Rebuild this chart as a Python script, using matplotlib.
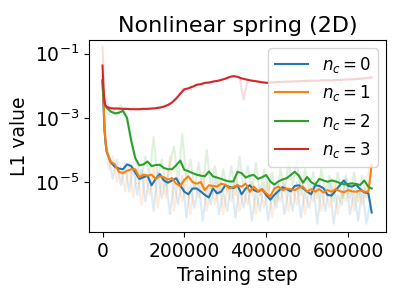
import numpy as np
import matplotlib
matplotlib.use("Agg")
import matplotlib.pyplot as plt

# training steps (smoothed curves), dense at the very start
steps = np.array([0, 2500, 5000, 7500] + list(range(10000, 650001, 10000)) + [658000])
# raw (noisy) curves
raw_steps = np.array([0] + list(range(5000, 655001, 10000)))

# log10 of the smoothed L1 value
nc0_log = [-1.85, -2.6, -3.4, -3.8,
           -4.05, -4.38, -4.52, -4.58, -4.60, -4.45, -4.50, -4.70, -4.90, -4.85,
           -4.80, -5.10, -4.90, -4.75, -4.95, -5.02, -4.95, -4.88, -5.10, -5.30,
           -5.38, -5.20, -5.20, -5.29, -5.40, -5.48, -5.20, -5.35, -5.30, -5.10,
           -5.15, -5.19, -5.10, -5.38, -5.20, -5.10, -5.25, -5.30, -5.22, -5.40,
           -5.55, -5.40, -5.28, -5.16, -5.22, -5.29, -5.12, -5.10, -5.19, -5.30,
           -5.38, -5.10, -5.12, -5.19, -5.40, -5.42, -5.26, -5.10, -4.95, -5.12,
           -5.14, -5.08, -5.22, -5.32, -5.35, -5.95]
nc1_log = [-1.85, -2.45, -3.3, -3.75,
           -4.02, -4.36, -4.45, -4.68, -4.72, -4.65, -4.60, -4.60, -4.85, -4.77,
           -4.80, -4.77, -4.90, -4.82, -4.85, -4.92, -4.88, -5.05, -5.12, -4.93,
           -4.82, -5.00, -5.05, -5.00, -5.25, -5.10, -5.12, -5.14, -5.05, -5.08,
           -5.20, -5.15, -5.10, -5.14, -5.05, -5.30, -5.14, -5.28, -5.22, -5.35,
           -5.45, -5.20, -5.14, -5.25, -5.20, -5.22, -5.25, -5.18, -5.14, -5.30,
           -5.22, -5.30, -5.22, -5.33, -5.25, -5.30, -5.22, -5.28, -5.32, -5.25,
           -5.29, -5.30, -5.26, -5.30, -5.30, -4.45]
nc2_log = [-1.82, -2.3, -2.55, -2.62,
           -2.68, -2.80, -2.86, -2.84, -2.78, -3.00, -3.70, -4.25, -4.48, -4.45,
           -4.36, -4.50, -4.47, -4.46, -4.56, -4.60, -4.60, -4.48, -4.33, -4.62,
           -4.66, -4.72, -4.77, -4.80, -4.82, -4.67, -4.82, -4.86, -4.90, -4.95,
           -4.98, -4.98, -4.68, -4.72, -4.86, -4.80, -4.78, -4.90, -4.85, -4.78,
           -4.98, -5.08, -4.98, -4.92, -4.88, -4.78, -4.68, -4.80, -5.02, -4.84,
           -5.00, -5.08, -4.90, -4.95, -4.99, -4.95, -4.98, -5.03, -5.07, -5.06,
           -5.04, -5.06, -5.09, -4.95, -5.15, -5.20]
nc3_log = [-1.37, -2.1, -2.5, -2.62,
           -2.66, -2.70, -2.71, -2.71, -2.72, -2.72, -2.73, -2.73, -2.73, -2.72,
           -2.72, -2.71, -2.70, -2.68, -2.65, -2.60, -2.52, -2.40, -2.25, -2.11,
           -2.08, -2.03, -1.97, -1.95, -1.91, -1.90, -1.87, -1.85, -1.82, -1.78,
           -1.73, -1.70, -1.72, -1.77, -1.80, -1.83, -1.85, -1.87, -1.89, -1.91,
           -1.90, -1.89, -1.88, -1.88, -1.87, -1.87, -1.86, -1.86, -1.85, -1.85,
           -1.84, -1.84, -1.84, -1.83, -1.83, -1.83, -1.82, -1.82, -1.81, -1.80,
           -1.80, -1.79, -1.78, -1.77, -1.75, -1.74]

# log10 of the raw L1 value
nc0_raw_log = [-1.7, -3.5, -4.2, -4.9, -4.3, -5.1, -4.4, -5.3, -4.5, -5.4,
               -4.6, -5.6, -4.8, -5.9, -4.7, -5.5, -4.9, -6.0, -5.0, -5.7,
               -4.8, -6.1, -5.1, -5.8, -5.0, -6.2, -5.2, -5.7, -4.9, -6.0,
               -5.3, -5.9, -5.0, -6.1, -5.2, -5.8, -5.1, -6.2, -5.3, -5.9,
               -5.0, -6.2, -5.4, -5.8, -5.1, -6.0, -5.2, -5.9, -5.0, -6.1,
               -5.3, -5.8, -5.1, -6.3, -5.2, -5.9, -5.0, -6.3, -5.4, -5.7,
               -4.9, -6.0, -5.3, -6.2, -5.2, -6.3, -5.6]
nc1_raw_log = [-1.8, -3.2, -4.6, -4.2, -5.0, -4.5, -5.3, -4.4, -5.5, -4.6,
               -5.7, -4.7, -5.4, -4.5, -5.8, -4.9, -5.5, -4.2, -5.9, -4.9,
               -5.6, -4.8, -6.0, -5.0, -5.5, -4.7, -5.9, -5.1, -5.7, -4.9,
               -6.0, -5.2, -5.6, -4.8, -5.9, -5.3, -5.7, -5.0, -6.0, -5.2,
               -5.8, -4.9, -6.1, -5.3, -5.6, -5.0, -5.9, -5.2, -5.7, -4.8,
               -6.0, -5.3, -5.6, -5.1, -5.9, -5.2, -5.8, -4.9, -6.0, -5.3,
               -5.6, -5.0, -5.9, -5.2, -5.7, -5.1, -4.3]
nc2_raw_log = [-1.8, -2.5, -2.9, -2.7, -2.95, -2.6, -2.9, -3.4, -4.0, -4.5,
               -4.9, -4.2, -4.8, -3.6, -4.9, -4.3, -5.1, -4.4, -3.9, -5.0,
               -3.5, -4.9, -4.3, -5.2, -4.4, -5.3, -4.0, -5.2, -4.5, -5.4,
               -4.6, -5.3, -4.5, -5.4, -4.2, -5.2, -4.5, -5.3, -4.4, -5.4,
               -4.6, -5.3, -4.7, -5.6, -4.6, -5.3, -4.4, -5.1, -4.3, -5.4,
               -4.6, -5.2, -4.7, -5.5, -4.6, -5.3, -4.8, -5.6, -4.7, -5.5,
               -4.8, -5.5, -4.7, -5.6, -4.8, -5.5, -5.0]
nc3_raw_log = [-0.78, -2.3, -2.66, -2.72, -2.69, -2.74, -2.70, -2.74, -2.71, -2.75,
               -2.71, -2.74, -2.70, -2.72, -2.67, -2.68, -2.60, -2.58, -2.44, -2.34,
               -2.10, -2.12, -2.02, -2.03, -1.94, -1.97, -1.88, -1.91, -1.84, -1.86,
               -1.78, -1.79, -1.70, -1.72, -1.73, -2.44, -1.80, -1.85, -1.84, -1.89,
               -1.87, -1.92, -1.87, -1.90, -1.86, -1.89, -1.85, -1.88, -1.84, -1.87,
               -1.84, -1.86, -1.83, -1.86, -1.82, -1.85, -1.82, -1.84, -2.05, -1.83,
               -1.80, -1.82, -1.79, -1.81, -1.77, -1.78, -1.72]

labels = [r'$n_c = 0$', r'$n_c = 1$', r'$n_c = 2$', r'$n_c = 3$']
colors = ['C0', 'C1', 'C2', 'C3']
smooth = [nc0_log, nc1_log, nc2_log, nc3_log]
raw = [nc0_raw_log, nc1_raw_log, nc2_raw_log, nc3_raw_log]

fig, ax = plt.subplots(figsize=(4, 3), dpi=100)
fig.subplots_adjust(left=0.2225, right=0.965, bottom=0.2267, top=0.8667)

for r, c in zip(raw, colors):
    ax.plot(raw_steps, 10 ** np.array(r), color=c, alpha=0.15, linewidth=1.5)
for s, c, lab in zip(smooth, colors, labels):
    ax.plot(steps, 10 ** np.array(s), color=c, linewidth=1.5, label=lab)

ax.set_yscale('log')
ax.set_ylim(10 ** -6.555, 10 ** -0.574)
ax.set_xlim(-33000, 693000)
ax.set_yticks([1e-5, 1e-3, 1e-1])
ax.yaxis.set_minor_locator(matplotlib.ticker.NullLocator())
ax.set_xticks([0, 200000, 400000, 600000])
ax.tick_params(labelsize=13.5)

ax.set_title('Nonlinear spring (2D)', fontsize=16)
ax.set_xlabel('Training step', fontsize=13.5)
ax.set_ylabel('L1 value', fontsize=13.5)
ax.legend(loc='upper right', fontsize=12)

plt.savefig('out.png', dpi=100)
